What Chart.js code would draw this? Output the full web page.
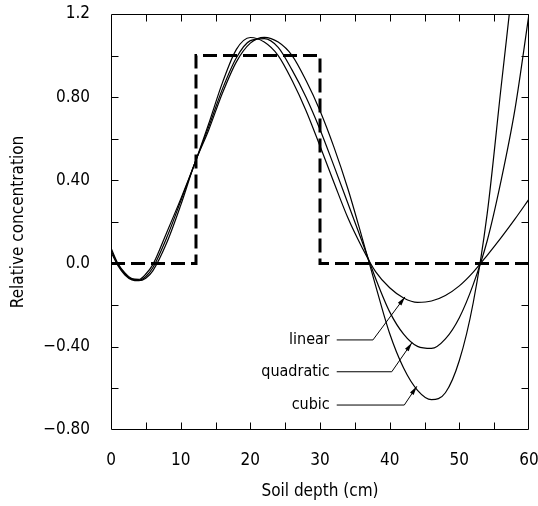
<!DOCTYPE html>
<html>
<head>
<meta charset="utf-8">
<script src="https://cdn.jsdelivr.net/npm/chart.js@4.4.0/dist/chart.umd.min.js"></script>
<style>
    html, body { margin: 0; padding: 0; background: #fff; }
</style>
</head>
<body>
<canvas id="myChart" width="538" height="506"></canvas>
<script>
// soil depth (cm) where the fitted curves were read
const depth = [0, 1, 2, 3, 4, 5, 6, 8, 10, 12, 14, 16, 18, 20, 22, 24, 26, 28, 30,
               32, 34, 36, 38, 40, 42, 44, 46, 48, 50, 52, 54, 56, 58, 60];

const linearFit = [0.075, 0.0, -0.045, -0.072, -0.076, -0.05, -0.005, 0.15, 0.31, 0.48,
                   0.67, 0.87, 1.03, 1.087, 1.065, 1.0, 0.88, 0.735, 0.565,
                   0.39, 0.22, 0.08, -0.04, -0.116, -0.165, -0.186, -0.18, -0.153, -0.107, -0.041,
                   0.04, 0.125, 0.215, 0.31];

const quadraticFit = [0.065, -0.005, -0.05, -0.075, -0.08, -0.062, -0.02, 0.125, 0.30, 0.48,
                      0.655, 0.84, 0.99, 1.072, 1.082, 1.04, 0.93, 0.80, 0.645,
                      0.47, 0.29, 0.11, -0.073, -0.232, -0.339, -0.398, -0.408, -0.362, -0.26, -0.10,
                      0.11, 0.40, 0.745, 1.2];

const cubicFit = [0.055, -0.01, -0.055, -0.078, -0.082, -0.07, -0.035, 0.10, 0.28, 0.48,
                  0.64, 0.82, 0.97, 1.06, 1.088, 1.065, 1.0, 0.88, 0.735,
                  0.56, 0.36, 0.13, -0.108, -0.336, -0.502, -0.609, -0.654, -0.621, -0.466, -0.187,
                  0.24, 0.85, 1.45, 2.1];

// measured step profile
const stepDepth = [0, 12.2, 12.2, 30, 30, 60];
const stepConc = [0, 0, 1, 1, 0, 0];

// tick labels
const xTickValues = [0, 10, 20, 30, 40, 50, 60];
const yTickValues = [-0.8, -0.4, 0, 0.4, 0.8, 1.2];
const yTickLabels = ['\u22120.80', '\u22120.40', '0.0', '0.40', '0.80', '1.2'];

// curve name callouts (data units)
const curveNames = ['linear', 'quadratic', 'cubic'];
const nameX = [31.4, 31.4, 31.4];
const nameY = [-0.367, -0.52, -0.68];
const leaderStartX = [32.4, 32.4, 32.4];
const elbowX = [37.6, 40.3, 42.1];
const tipX = [42.2, 43.2, 43.9];
const tipY = [-0.16, -0.38, -0.59];

const FONT = "'DejaVu Sans Condensed', 'DejaVu Sans', sans-serif";

function pts(xs, ys) {
    return xs.map((v, i) => ({x: v, y: ys[i]}));
}

// frame, inward ticks and the curve callouts
const frameTicks = {
    id: 'frameTicks',
    afterDatasetsDraw(chart) {
        const ctx = chart.ctx;
        const a = chart.chartArea;
        const xs = chart.scales.x;
        const ys = chart.scales.y;
        const L = Math.round(a.left) + 0.5, R = Math.round(a.right) - 0.5;
        const T = Math.round(a.top) + 0.5, B = Math.round(a.bottom) - 0.5;

        ctx.save();
        ctx.strokeStyle = '#000';
        ctx.lineWidth = 1;
        ctx.beginPath();
        ctx.rect(L, T, R - L, B - T);
        xs.ticks.forEach(t => {
            if (t.value <= xs.min || t.value >= xs.max) return;
            const px = Math.round(xs.getPixelForValue(t.value)) + 0.5;
            ctx.moveTo(px, B); ctx.lineTo(px, B - 7);
            ctx.moveTo(px, T); ctx.lineTo(px, T + 7);
        });
        ys.ticks.forEach(t => {
            if (t.value <= ys.min + 1e-6 || t.value >= ys.max - 1e-6) return;
            const py = Math.round(ys.getPixelForValue(t.value)) + 0.5;
            ctx.moveTo(L, py); ctx.lineTo(L + 7, py);
            ctx.moveTo(R, py); ctx.lineTo(R - 7, py);
        });
        ctx.stroke();

        ctx.font = '16px ' + FONT;
        ctx.fillStyle = '#000';
        ctx.textAlign = 'right';
        ctx.textBaseline = 'middle';
        for (let i = 0; i < curveNames.length; i++) {
            const ty = ys.getPixelForValue(nameY[i]);
            ctx.fillText(curveNames[i], xs.getPixelForValue(nameX[i]), ty);
            const ex = xs.getPixelForValue(elbowX[i]);
            const tx = xs.getPixelForValue(tipX[i]);
            const tyy = ys.getPixelForValue(tipY[i]);
            ctx.beginPath();
            ctx.moveTo(xs.getPixelForValue(leaderStartX[i]), ty);
            ctx.lineTo(ex, ty);
            ctx.lineTo(tx, tyy);
            ctx.stroke();
            // arrow head
            const ang = Math.atan2(tyy - ty, tx - ex);
            const len = 9, half = 2.2;
            ctx.beginPath();
            ctx.moveTo(tx, tyy);
            ctx.lineTo(tx - len * Math.cos(ang) + half * Math.sin(ang), tyy - len * Math.sin(ang) - half * Math.cos(ang));
            ctx.lineTo(tx - len * Math.cos(ang) - half * Math.sin(ang), tyy - len * Math.sin(ang) + half * Math.cos(ang));
            ctx.closePath();
            ctx.fill();
        }
        ctx.restore();
    }
};

const curveStyle = {
    borderColor: '#000',
    borderWidth: 1.2,
    pointRadius: 0,
    cubicInterpolationMode: 'monotone',
    fill: false,
    clip: 0
};

const data = {
    datasets: [
        Object.assign({label: 'linear', data: pts(depth, linearFit)}, curveStyle),
        Object.assign({label: 'quadratic', data: pts(depth, quadraticFit)}, curveStyle),
        Object.assign({label: 'cubic', data: pts(depth, cubicFit)}, curveStyle),
        {
            label: 'measured',
            data: pts(stepDepth, stepConc),
            borderColor: '#000',
            borderWidth: 3,
            borderDash: [14, 6],
            pointRadius: 0,
            tension: 0,
            fill: false,
            clip: 0
        }
    ]
};

const config = {
    type: 'line',
    data: data,
    options: {
        responsive: false,
        animation: false,
        layout: {padding: {left: 0, right: 9, top: 14, bottom: 0}},
        plugins: {legend: {display: false}, tooltip: {enabled: false}},
        scales: {
            x: {
                type: 'linear',
                min: 0,
                max: 60,
                grid: {display: false},
                border: {display: false},
                ticks: {
                    stepSize: 5,
                    autoSkip: false,
                    maxRotation: 0,
                    padding: 12,
                    color: '#000',
                    font: {size: 17, family: FONT},
                    callback: v => xTickValues.includes(v) ? String(v) : ''
                },
                title: {
                    display: true,
                    text: 'Soil depth (cm)',
                    color: '#000',
                    font: {size: 17, family: FONT},
                    padding: {top: 0, bottom: 4}
                },
                afterFit: s => { s.height = 76; s.paddingLeft = 0; s.paddingRight = 0; }
            },
            y: {
                min: -0.8,
                max: 1.2,
                grid: {display: false},
                border: {display: false},
                ticks: {
                    stepSize: 0.2,
                    autoSkip: false,
                    padding: 13,
                    color: '#000',
                    font: {size: 17, family: FONT},
                    callback: v => {
                        const i = yTickValues.findIndex(t => Math.abs(t - v) < 1e-6);
                        return i >= 0 ? yTickLabels[i] : '';
                    }
                },
                title: {
                    display: true,
                    text: 'Relative concentration',
                    color: '#000',
                    font: {size: 17, family: FONT},
                    padding: {top: 8, bottom: 0}
                },
                afterFit: s => { s.width = 111; s.paddingTop = 0; s.paddingBottom = 0; }
            }
        }
    },
    plugins: [frameTicks]
};

let myChart = new Chart(document.getElementById('myChart'), config);
</script>
</body>
</html>
